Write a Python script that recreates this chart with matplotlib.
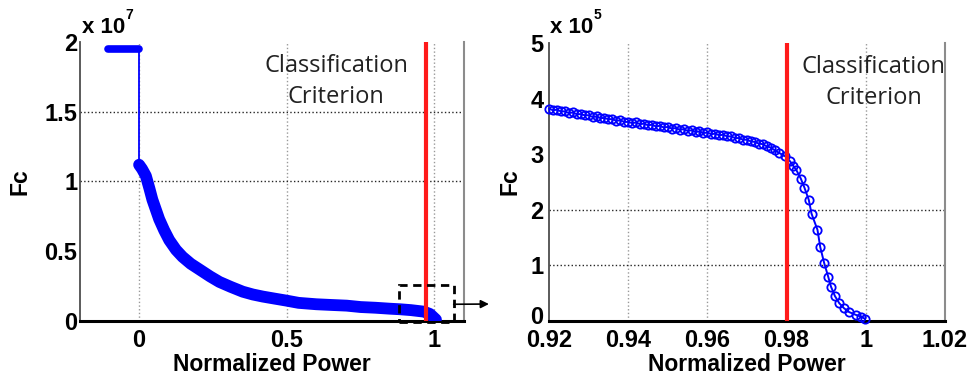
import matplotlib
matplotlib.use('Agg')
import matplotlib.pyplot as plt
import matplotlib.transforms as mtransforms
from matplotlib.patches import Rectangle

#--------------------------------------------------------------------
# Daten, Fc links in 1e7, rechts in 1e5
#--------------------------------------------------------------------
flat_x = [-0.105, -0.08, -0.05, -0.02, 0.0]
flat_y = [1.95, 1.95, 1.95, 1.95, 1.95]

decay_x = [0.000, 0.010, 0.023, 0.035, 0.045, 0.068, 0.085, 0.102, 0.125,
           0.147, 0.175, 0.204, 0.240, 0.272, 0.310, 0.351, 0.385, 0.419,
           0.460, 0.499, 0.540, 0.600, 0.650, 0.703, 0.750, 0.800, 0.850,
           0.884, 0.920, 0.964, 0.985, 0.995, 1.005]
decay_y = [1.12, 1.09, 1.04, 0.95, 0.87, 0.73, 0.65, 0.58, 0.51,
           0.46, 0.41, 0.37, 0.32, 0.28, 0.245, 0.21, 0.19, 0.175,
           0.16, 0.146, 0.13, 0.12, 0.115, 0.11, 0.10, 0.095, 0.088,
           0.084, 0.078, 0.067, 0.05, 0.03, 0.01]

zoom_x = [0.920, 0.921, 0.922, 0.923, 0.924, 0.925, 0.926, 0.927, 0.928, 0.929,
          0.930, 0.931, 0.932, 0.933, 0.934, 0.935, 0.936, 0.937, 0.938, 0.939,
          0.940, 0.941, 0.942, 0.943, 0.944, 0.945, 0.946, 0.947, 0.948, 0.949,
          0.950, 0.951, 0.952, 0.953, 0.954, 0.955, 0.956, 0.957, 0.958, 0.959,
          0.960, 0.961, 0.962, 0.963, 0.964, 0.965, 0.966, 0.967, 0.968, 0.969,
          0.970, 0.971, 0.972, 0.973, 0.974, 0.975, 0.976, 0.977,
          0.9782, 0.9797, 0.9809, 0.9817, 0.9825, 0.9836, 0.9845, 0.9856,
          0.9863, 0.9878, 0.9885, 0.9895, 0.9905, 0.9912, 0.9922, 0.9933,
          0.9945, 0.9958, 0.9975, 0.9987, 0.9998]
zoom_y = [3.82, 3.79, 3.80, 3.77, 3.77, 3.74, 3.75, 3.72, 3.72, 3.70,
          3.70, 3.67, 3.68, 3.65, 3.65, 3.63, 3.63, 3.60, 3.61, 3.58,
          3.58, 3.56, 3.57, 3.54, 3.55, 3.52, 3.53, 3.50, 3.51, 3.48,
          3.49, 3.46, 3.47, 3.44, 3.45, 3.42, 3.43, 3.40, 3.41, 3.38,
          3.39, 3.36, 3.37, 3.34, 3.35, 3.32, 3.32, 3.29, 3.29, 3.26,
          3.26, 3.23, 3.22, 3.19, 3.18, 3.14, 3.12, 3.07,
          3.02, 2.96, 2.87, 2.79, 2.71, 2.56, 2.40, 2.18,
          1.93, 1.64, 1.33, 1.04, 0.80, 0.62, 0.45, 0.32,
          0.23, 0.16, 0.11, 0.08, 0.04]

crit_left = 0.97
crit_right = 0.98

left_xticks = [0, 0.5, 1]
left_xlabels = ['0', '0.5', '1']
left_yticks = [0, 0.5, 1, 1.5, 2]
left_ylabels = ['0', '0.5', '1', '1.5', '2']
right_xticks = [0.92, 0.94, 0.96, 0.98, 1.0, 1.02]
right_xlabels = ['0.92', '0.94', '0.96', '0.98', '1', '1.02']
right_yticks = [0, 1, 2, 3, 4, 5]
right_ylabels = ['0', '1', '2', '3', '4', '5']

TICKFONT = dict(family='Liberation Sans', weight='bold', size=17)
LABFONT = dict(family='Liberation Sans', weight='bold', size=16.5)
TXTFONT = dict(family='Open Sans', size=17, color='#222222')
BLUE = '#0000ff'


def styleAxes(ax):
  # MATLAB-artig: links/unten schwarz, rechts grau, oben keine Linie
  ax.spines['top'].set_visible(False)
  ax.spines['right'].set_color('0.55')
  ax.spines['right'].set_linewidth(1.5)
  ax.spines['left'].set_color('0.3')
  ax.spines['left'].set_linewidth(1.3)
  ax.spines['bottom'].set_color('black')
  ax.spines['bottom'].set_linewidth(2.2)
  ax.tick_params(length=0, pad=2)
  for lab in ax.get_xticklabels() + ax.get_yticklabels():
    lab.set_fontproperties(matplotlib.font_manager.FontProperties(**TICKFONT))


fig = plt.figure(figsize=(9.72, 3.81), dpi=100)

#--------------------------------------------------------------------
# Linker Plot
#--------------------------------------------------------------------
ax1 = fig.add_axes([0.0823, 0.1575, 0.3951, 0.7323])
ax1.set_xlim(-0.2, 1.1)
ax1.set_ylim(0, 2)
for xv in left_xticks:
  ax1.axvline(xv, color='0.6', ls=':', lw=1.0, zorder=0)
for yv in [1.0, 1.5]:
  ax1.axhline(yv, color='0.15', ls=':', lw=1.0, zorder=0)

ax1.plot(flat_x, flat_y, color=BLUE, lw=5.5, solid_capstyle='round', zorder=3)
ax1.plot([flat_x[-1], decay_x[0]], [flat_y[-1], decay_y[0]], color=BLUE, lw=1.3, zorder=3)
ax1.plot(decay_x, decay_y, color=BLUE, lw=8.5, solid_capstyle='round',
         solid_joinstyle='round', zorder=3)
ax1.axvline(crit_left, color='#ff1a1a', lw=3, zorder=4)

ax1.set_xticks(left_xticks)
ax1.set_xticklabels(left_xlabels)
ax1.set_yticks(left_yticks)
ax1.set_yticklabels(left_ylabels)
styleAxes(ax1)
ax1.tick_params(axis='x', pad=6)

ax1.set_xlabel('Normalized Power', fontdict=LABFONT)
ax1.xaxis.set_label_coords(0.5, -0.115)
ax1.set_ylabel('Fc', fontdict=LABFONT)
ax1.yaxis.set_label_coords(-0.125, 0.5)

ax1.text(0.667, 0.915, 'Classification', transform=ax1.transAxes,
         ha='center', va='center', **TXTFONT)
ax1.text(0.667, 0.803, 'Criterion', transform=ax1.transAxes,
         ha='center', va='center', **TXTFONT)

# Ausschnitt-Markierung
ax1.add_patch(Rectangle((0.881, -0.01), 0.184, 0.27, fill=False, ls=(0, (3, 2)),
                        lw=2, ec='black', clip_on=False, zorder=5))
ax1.annotate('', xy=(0.503, 0.202), xycoords='figure fraction',
             xytext=(1.065, 0.12), textcoords='data',
             arrowprops=dict(arrowstyle='-|>', lw=1.2, color='black',
                             mutation_scale=12, shrinkA=0, shrinkB=0))

fig.text(0.0844, 0.913, 'x 10', fontsize=16, weight='bold', family='Liberation Sans')
fig.text(0.1295, 0.950, '7', fontsize=10, weight='bold', family='Liberation Sans')

#--------------------------------------------------------------------
# Rechter Plot (Ausschnitt)
#--------------------------------------------------------------------
ax2 = fig.add_axes([0.5648, 0.1575, 0.4074, 0.7297])
ax2.set_xlim(0.92, 1.02)
ax2.set_ylim(0, 5)
for xv in [0.94, 0.96, 0.98, 1.0]:
  ax2.axvline(xv, color='0.6', ls=':', lw=1.0, zorder=0)
for yv in [1, 2]:
  ax2.axhline(yv, color='0.15', ls=':', lw=1.0, zorder=0)

ax2.plot(zoom_x, zoom_y, color=BLUE, lw=1.4, marker='o', ms=6, mfc='none',
         mec=BLUE, mew=1.3, zorder=3, clip_on=False)
ax2.axvline(crit_right, color='#ff1a1a', lw=3, zorder=4)

ax2.set_xticks(right_xticks)
ax2.set_xticklabels(right_xlabels)
ax2.set_yticks(right_yticks)
ax2.set_yticklabels(right_ylabels)
styleAxes(ax2)
ax2.tick_params(axis='x', pad=6)
ax2.tick_params(axis='y', pad=4)
# "0" der y-Achse etwas anheben, damit es nicht in "0.92" laeuft
lab0 = ax2.get_yticklabels()[0]
lab0.set_transform(lab0.get_transform() +
                   mtransforms.ScaledTranslation(0, 4 / 72, fig.dpi_scale_trans))

ax2.set_xlabel('Normalized Power', fontdict=LABFONT)
ax2.xaxis.set_label_coords(0.5, -0.115)
ax2.set_ylabel('Fc', fontdict=LABFONT)
ax2.yaxis.set_label_coords(-0.069, 0.5)

ax2.text(0.82, 0.915, 'Classification', transform=ax2.transAxes,
         ha='center', va='center', **TXTFONT)
ax2.text(0.82, 0.803, 'Criterion', transform=ax2.transAxes,
         ha='center', va='center', **TXTFONT)

fig.text(0.5658, 0.913, 'x 10', fontsize=16, weight='bold', family='Liberation Sans')
fig.text(0.6110, 0.950, '5', fontsize=10, weight='bold', family='Liberation Sans')

fig.savefig('out.png', dpi=100)
